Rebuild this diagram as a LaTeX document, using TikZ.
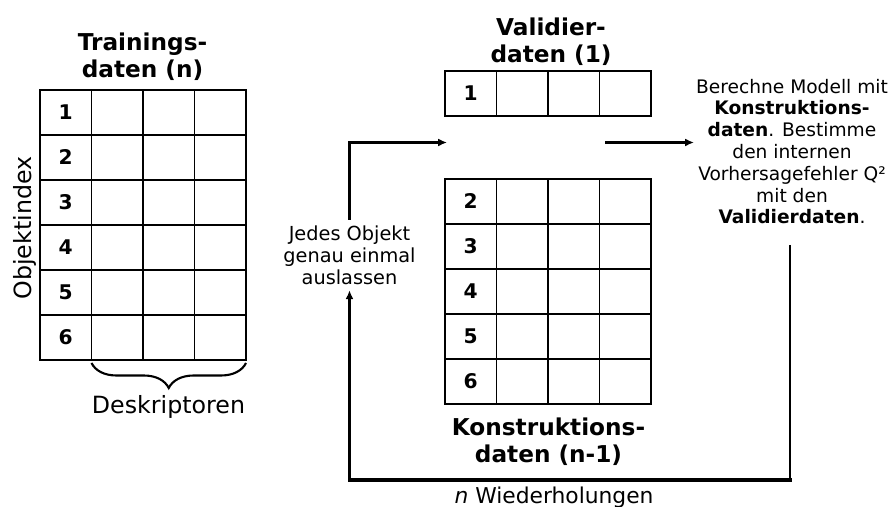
\documentclass[tikz,border=0pt]{standalone}
\usepackage{fontspec}
\setmainfont{DejaVu Sans}
\usetikzlibrary{arrows.meta,decorations.pathreplacing}

\tikzset{
    zelle/.style={draw, line width=1.1pt},
    nummer/.style={font=\fontsize{11.5}{13}\selectfont\bfseries},
    titel/.style={align=center, inner sep=1pt, font=\fontsize{13.2}{15.4}\selectfont\bfseries},
    klein/.style={align=center, font=\fontsize{10.6}{12.4}\selectfont},
    gross/.style={font=\fontsize{13.5}{16}\selectfont},
    linie/.style={line width=1.2pt},
    pfeil/.style={linie, -{Latex[length=5pt,width=4.5pt]}}
}

\begin{document}
\begin{tikzpicture}
    \useasboundingbox (0,0) rectangle (17.82,10.14);

    % Trainingsdaten
    \foreach \i in {1,...,6} {
        \foreach \j in {0,...,3}
            \draw[zelle] ({0.8+1.03*\j},{8.34-0.9*\i}) rectangle ++(1.03,0.9);
        \node[nummer] (train\i) at (1.315,{8.79-0.9*\i}) {\i};
    }
    \node[titel] (trainkopf) at (2.85,9.0) {Trainings-\\daten (n)};
    \node[gross, rotate=90] (index) at (0.5,5.58) {Objektindex};
    \draw[linie, decorate, decoration={brace, mirror, amplitude=0.5cm}]
        (1.83,2.88) -- (4.92,2.88);
    \node[gross] (deskr) at (3.37,2.0) {Deskriptoren};

    % Validierdaten
    \foreach \j in {0,...,3}
        \draw[zelle] ({8.9+1.03*\j},7.82) rectangle ++(1.03,0.9);
    \node[nummer] (valid1) at (9.415,8.27) {1};
    \node[titel] (validkopf) at (11.02,9.31) {Validier-\\daten (1)};

    % Konstruktionsdaten
    \foreach \i in {2,...,6} {
        \foreach \j in {0,...,3}
            \draw[zelle] ({8.9+1.03*\j},{7.46-0.9*\i}) rectangle ++(1.03,0.9);
        \node[nummer] (konst\i) at (9.415,{7.91-0.9*\i}) {\i};
    }
    \node[titel] (konstkopf) at (10.97,1.3) {Konstruktions-\\daten (n-1)};

    % Texte
    \node[klein, inner sep=1pt] (modell) at (15.84,7.11)
        {Berechne Modell mit\\\textbf{Konstruktions-}\\\textbf{daten}. Bestimme\\den internen\\Vorhersagefehler Q²\\mit den\\\textbf{Validierdaten}.};
    \node[klein, font=\fontsize{11}{12.6}\selectfont, inner sep=3pt] (auslassen) at (6.99,5.04)
        {Jedes Objekt\\genau einmal\\auslassen};
    \node[gross, font=\fontsize{12.4}{14}\selectfont] (wdh) at (11.08,0.2) {\textit{n} Wiederholungen};

    % Schleife
    \coordinate (linksziel) at (8.94,7.29);
    \coordinate (rechtsab) at (12.1,7.29);
    \coordinate (start) at (15.8,5.24);
    \coordinate (rechtsunten) at (15.8,0.54);
    \coordinate (linksunten) at (6.99,0.54);

    \draw[pfeil] (auslassen.north) |- (linksziel);
    \draw[pfeil] (rechtsab) -- (rechtsab -| modell.west);
    \draw[linie, line width=1.4pt] (start) -- (rechtsunten);
    \draw[linie, line width=2pt, line cap=rect] (rechtsunten) -- (linksunten);
    \draw[pfeil] (linksunten) -- (auslassen.south);
\end{tikzpicture}
\end{document}
